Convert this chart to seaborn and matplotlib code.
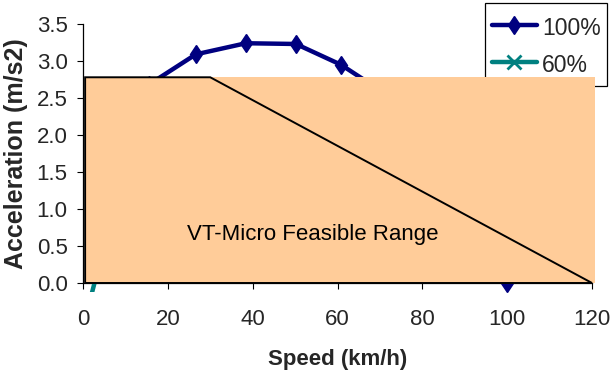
import matplotlib
matplotlib.use("Agg")
import matplotlib.pyplot as plt
from matplotlib.patches import Rectangle, Polygon
import seaborn as sns
import pandas as pd

# Acceleration curves at full (100%) and partial (60%) throttle
speed_100 = [4.2, 15.5, 26.6, 38.4, 50.2, 60.8, 71.5, 82.5, 93.0, 100.0]
accel_100 = [2.35, 2.68, 3.09, 3.24, 3.23, 2.95, 2.55, 2.00, 1.20, 0.00]

speed_60 = [0.0, 4.2, 15.5, 26.6, 38.4, 50.2, 60.8, 71.5, 82.5, 93.0, 97.0]
accel_60 = [-0.60, 0.33, 1.55, 1.85, 1.95, 1.94, 1.77, 1.53, 1.20, 0.72, 0.30]

# VT-Micro feasible region: constant max acceleration, then linear decline
region_speed = [0.5, 0.5, 30.0, 120.0]
region_accel = [0.0, 2.78, 2.78, 0.0]
region_right = 120.7

x_ticks = [0, 20, 40, 60, 80, 100, 120]
y_ticks = [0.0, 0.5, 1.0, 1.5, 2.0, 2.5, 3.0, 3.5]

NAVY = "#000080"
TEAL = "#008080"
TAN = "#FFCC99"

W, H = 612, 381

sns.set_theme(style="white")
plt.rcParams["font.family"] = ["Liberation Sans", "DejaVu Sans"]

fig = plt.figure(figsize=(W / 100, H / 100), dpi=100)
ax = fig.add_axes([83 / W, 1 - 283 / H, (592 - 83) / W, (283 - 24) / H])

df100 = pd.DataFrame({"speed": speed_100, "accel": accel_100})
df60 = pd.DataFrame({"speed": speed_60, "accel": accel_60})

sns.lineplot(data=df100, x="speed", y="accel", ax=ax, color=NAVY, lw=3.2,
             marker="d", markersize=9.5, markeredgewidth=1, markeredgecolor=NAVY,
             label="100%", zorder=3)
sns.lineplot(data=df60, x="speed", y="accel", ax=ax, color=TEAL, lw=3.2,
             marker="x", markersize=10, markeredgewidth=2, markeredgecolor=TEAL,
             label="60%", zorder=2.8)

ax.set_xlim(0, 120)
ax.set_ylim(0, 3.5)

# lines may spill a little below the axis, as in the plot area
clip = Rectangle((0, -0.125), 120, 3.625, transform=ax.transData)
for ln in ax.lines:
    ln.set_clip_path(clip)

# shaded feasible range drawn over the curves
ax.add_patch(Rectangle((region_speed[0], 0), region_right - region_speed[0], max(region_accel),
                       facecolor=TAN, edgecolor="none", zorder=6, clip_on=False))
ax.add_patch(Polygon(list(zip(region_speed, region_accel)), closed=True, facecolor="none",
                     edgecolor="black", lw=1.4, zorder=7, clip_on=False))
ax.text(54.2, 0.58, "VT-Micro Feasible Range", ha="center", va="baseline",
        fontsize=16, color="black", zorder=8)

ax.set_xticks(x_ticks)
ax.set_yticks(y_ticks)
ax.set_xticklabels([str(v) for v in x_ticks])
ax.set_yticklabels([f"{v:.1f}" for v in y_ticks])
ax.tick_params(axis="x", direction="out", length=4.5, width=0.8, color="black",
               labelsize=16, pad=14, bottom=True)
ax.tick_params(axis="y", direction="out", length=4.5, width=0.8, color="black",
               labelsize=16, pad=6.5, left=True)

for side in ["top", "right"]:
    ax.spines[side].set_visible(False)
for side in ["left", "bottom"]:
    ax.spines[side].set_color("black")
    ax.spines[side].set_linewidth(0.9)

ax.set_xlabel("Speed (km/h)", fontsize=16, fontweight="bold", labelpad=14)
ax.set_ylabel("Acceleration (m/s2)", fontsize=18, fontweight="bold", labelpad=6)
ax.grid(False)

# legend box sits partly behind the shaded region
ax.add_patch(Rectangle((485 / W, 1 - 86 / H), 122 / W, 83 / H, transform=fig.transFigure,
                       facecolor="white", edgecolor="black", lw=0.9, zorder=4.9,
                       clip_on=False))
handles, labels = ax.get_legend_handles_labels()
leg = ax.legend(handles, labels, loc="upper left", bbox_to_anchor=(485 / W, 1 - 8 / H),
                bbox_transform=fig.transFigure, fontsize=16.5, frameon=False,
                borderaxespad=0, borderpad=0.3, handlelength=1.95, handleheight=1.3,
                handletextpad=0.25, labelspacing=0.52)
leg.set_zorder(5)

fig.savefig("out.png", dpi=100, facecolor="white")
